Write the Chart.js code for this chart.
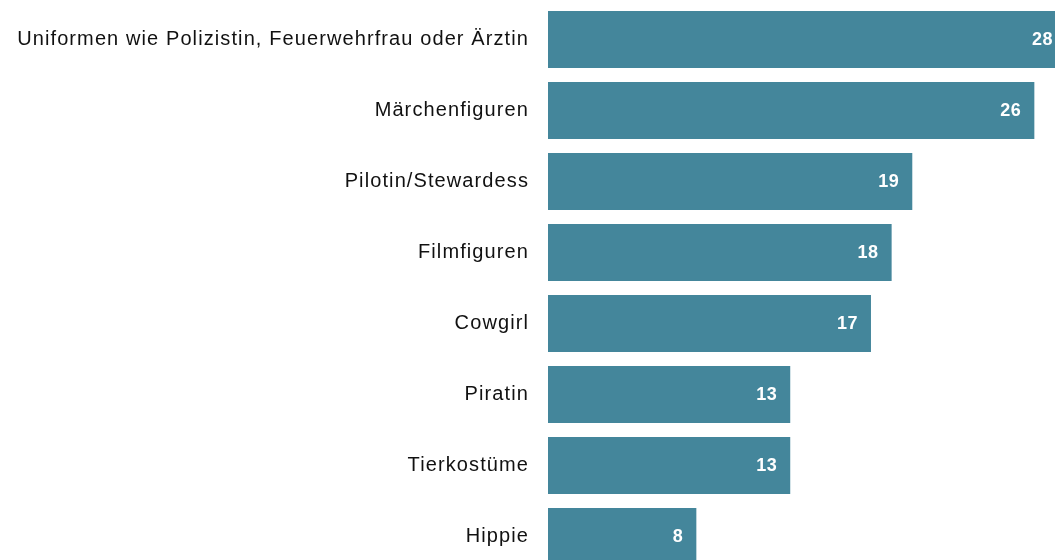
<!DOCTYPE html>
<html>
<head>
<meta charset="utf-8">
<script src="https://cdn.jsdelivr.net/npm/chart.js@4"></script>
<style>
    html, body { margin: 0; padding: 0; background: #fff; overflow: hidden; }
</style>
</head>
<body>
<canvas id="myChart" width="1055" height="572"></canvas>
<script>
    // values
    const categories = [
        "Uniformen wie Polizistin, Feuerwehrfrau oder Ärztin",
        "Märchenfiguren",
        "Pilotin/Stewardess",
        "Filmfiguren",
        "Cowgirl",
        "Piratin",
        "Tierkostüme",
        "Hippie"
    ];
    const values = [28.2, 25.9, 19.4, 18.3, 17.2, 12.9, 12.9, 7.9];
    const valueLabels = ["28", "26", "19", "18", "17", "13", "13", "8"];

    // the category labels in the original are spaced out a bit
    const spacedText = {
        id: 'spacedText',
        beforeDraw(chart) {
            chart.ctx.letterSpacing = '1.1px';
        }
    };

    // draws the white numbers inside the bar ends
    const barValues = {
        id: 'barValues',
        afterDatasetsDraw(chart) {
            const ctx = chart.ctx;
            const area = chart.chartArea;
            const meta = chart.getDatasetMeta(0);
            ctx.save();
            ctx.letterSpacing = '0.5px';
            ctx.fillStyle = '#ffffff';
            ctx.font = 'bold 18px "Liberation Sans", Arial, sans-serif';
            ctx.textAlign = 'right';
            ctx.textBaseline = 'middle';
            meta.data.forEach(function(bar, i) {
                let x = Math.min(bar.x - 13, area.right - 2);
                ctx.fillText(valueLabels[i], x, bar.y + 1);
            });
            ctx.restore();
        }
    };

    new Chart("myChart", {
        type: 'bar',
        data: {
            labels: categories,
            datasets: [{
                data: values,
                backgroundColor: '#44869b',
                borderWidth: 0,
                barPercentage: 0.8,
                categoryPercentage: 1.0
            }]
        },
        options: {
            indexAxis: 'y',
            responsive: false,
            animation: false,
            layout: { padding: { top: 4, right: 0, bottom: 0, left: 0 } },
            plugins: {
                legend: { display: false },
                tooltip: { enabled: false }
            },
            scales: {
                x: {
                    display: false,
                    min: 0,
                    max: 27
                },
                y: {
                    grid: { display: false, drawTicks: false },
                    border: { display: false },
                    afterFit: function(scale) {
                        scale.width = 548;
                        scale.paddingTop = 0;
                        scale.paddingBottom = 0;
                    },
                    ticks: {
                        padding: 19,
                        color: '#111111',
                        font: { family: '"Liberation Sans", Arial, sans-serif', size: 20 }
                    }
                }
            }
        },
        plugins: [spacedText, barValues]
    });
</script>
</body>
</html>
